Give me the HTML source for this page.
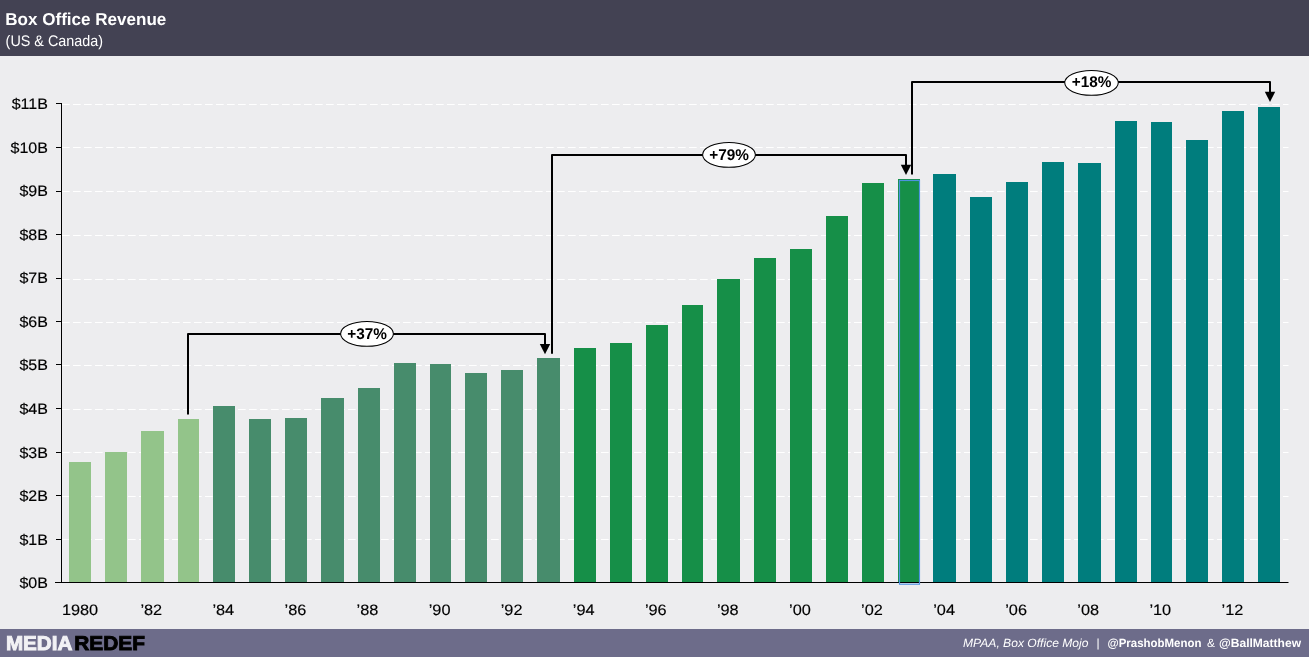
<!DOCTYPE html>
<html lang="en"><head><meta charset="utf-8"><title>Box Office Revenue</title>
<style>
html,body{margin:0;padding:0;background:#ededef;}
body{width:1309px;height:657px;overflow:hidden;font-family:"Liberation Sans",sans-serif;}
svg{display:block}
text{font-family:"Liberation Sans",sans-serif;text-rendering:geometricPrecision}
.yl{font-size:15.2px;fill:#000;stroke:#000;stroke-width:.15px;text-anchor:end}
.xl{font-size:15.1px;fill:#000;stroke:#000;stroke-width:.15px;text-anchor:middle}
.pl{font-size:15.5px;font-weight:bold;fill:#000;text-anchor:middle}
</style></head><body>
<svg width="1309" height="657" viewBox="0 0 1309 657">
<rect x="0" y="0" width="1309" height="657" fill="#ededef"/>
<rect x="0" y="0" width="1309" height="56" fill="#434253"/>
<text x="5.3" y="24.5" font-size="17.2" font-weight="bold" fill="#fff" textLength="161" lengthAdjust="spacingAndGlyphs">Box Office Revenue</text>
<text x="5.6" y="45.9" font-size="15.3" fill="#fff" textLength="97.5" lengthAdjust="spacingAndGlyphs">(US &amp; Canada)</text>

<g stroke="#fff" stroke-width="1" stroke-dasharray="7.7 3.3" fill="none">
<path d="M62 539.5H1288.5"/>
<path d="M62 496.5H1288.5"/>
<path d="M62 452.5H1288.5"/>
<path d="M62 409.5H1288.5"/>
<path d="M62 365.5H1288.5"/>
<path d="M62 322.5H1288.5"/>
<path d="M62 279.5H1288.5"/>
<path d="M62 235.5H1288.5"/>
<path d="M62 191.5H1288.5"/>
<path d="M62 147.5H1288.5"/>
<path d="M62 104.5H1288.5"/>
</g>
<rect x="69" y="462" width="22" height="120" fill="#93c48a"/>
<rect x="105" y="452" width="22" height="130" fill="#93c48a"/>
<rect x="141" y="431" width="23" height="151" fill="#93c48a"/>
<rect x="178" y="419" width="21" height="163" fill="#93c48a"/>
<rect x="213" y="406" width="22" height="176" fill="#478c6c"/>
<rect x="249" y="419" width="22" height="163" fill="#478c6c"/>
<rect x="285" y="418" width="22" height="164" fill="#478c6c"/>
<rect x="321" y="398" width="23" height="184" fill="#478c6c"/>
<rect x="358" y="388" width="22" height="194" fill="#478c6c"/>
<rect x="394" y="363" width="22" height="219" fill="#478c6c"/>
<rect x="430" y="364" width="21" height="218" fill="#478c6c"/>
<rect x="465" y="373" width="22" height="209" fill="#478c6c"/>
<rect x="501" y="370" width="22" height="212" fill="#478c6c"/>
<rect x="537" y="358" width="23" height="224" fill="#478c6c"/>
<rect x="574" y="348" width="22" height="234" fill="#168f48"/>
<rect x="610" y="343" width="22" height="239" fill="#168f48"/>
<rect x="646" y="325" width="22" height="257" fill="#168f48"/>
<rect x="682" y="305" width="21" height="277" fill="#168f48"/>
<rect x="717" y="279" width="23" height="303" fill="#168f48"/>
<rect x="754" y="258" width="22" height="324" fill="#168f48"/>
<rect x="790" y="249" width="22" height="333" fill="#168f48"/>
<rect x="826" y="216" width="22" height="366" fill="#168f48"/>
<rect x="862" y="183" width="22" height="399" fill="#168f48"/>
<rect x="898" y="179" width="22" height="403" fill="#168f48"/>
<rect x="933" y="174" width="23" height="408" fill="#007d7d"/>
<rect x="970" y="197" width="22" height="385" fill="#007d7d"/>
<rect x="1006" y="182" width="22" height="400" fill="#007d7d"/>
<rect x="1042" y="162" width="22" height="420" fill="#007d7d"/>
<rect x="1078" y="163" width="23" height="419" fill="#007d7d"/>
<rect x="1115" y="121" width="22" height="461" fill="#007d7d"/>
<rect x="1151" y="122" width="21" height="460" fill="#007d7d"/>
<rect x="1186" y="140" width="22" height="442" fill="#007d7d"/>
<rect x="1222" y="111" width="22" height="471" fill="#007d7d"/>
<rect x="1258" y="107" width="22" height="475" fill="#007d7d"/>
<g stroke="#000" stroke-width="1" fill="none">
<path d="M61.5 103V583"/>
<path d="M55 582.5H1288.5"/>
<path d="M56 539.5H61"/>
<path d="M56 495.5H61"/>
<path d="M56 452.5H61"/>
<path d="M56 408.5H61"/>
<path d="M56 364.5H61"/>
<path d="M56 321.5H61"/>
<path d="M56 278.5H61"/>
<path d="M56 234.5H61"/>
<path d="M56 191.5H61"/>
<path d="M56 147.5H61"/>
<path d="M56 103.5H61"/>
</g>
<rect x="899.5" y="180.5" width="20" height="403.7" fill="none" stroke="#4d92e0" stroke-width="1.15"/>
<text class="yl" transform="translate(47.9 588.1) scale(1.055 1)">$0B</text>
<text class="yl" transform="translate(47.9 544.6) scale(1.055 1)">$1B</text>
<text class="yl" transform="translate(47.9 501.0) scale(1.055 1)">$2B</text>
<text class="yl" transform="translate(47.9 457.5) scale(1.055 1)">$3B</text>
<text class="yl" transform="translate(47.9 413.9) scale(1.055 1)">$4B</text>
<text class="yl" transform="translate(47.9 370.4) scale(1.055 1)">$5B</text>
<text class="yl" transform="translate(47.9 326.8) scale(1.055 1)">$6B</text>
<text class="yl" transform="translate(47.9 283.3) scale(1.055 1)">$7B</text>
<text class="yl" transform="translate(47.9 239.7) scale(1.055 1)">$8B</text>
<text class="yl" transform="translate(47.9 196.2) scale(1.055 1)">$9B</text>
<text class="yl" transform="translate(47.9 152.6) scale(1.055 1)">$10B</text>
<text class="yl" transform="translate(47.9 109.1) scale(1.055 1)">$11B</text>
<text class="xl" transform="translate(80.0 615.3) scale(1.08 1)">1980</text>
<text class="xl" transform="translate(151.3 615.3) scale(1.08 1)">’82</text>
<text class="xl" transform="translate(223.3 615.3) scale(1.08 1)">’84</text>
<text class="xl" transform="translate(295.4 615.3) scale(1.08 1)">’86</text>
<text class="xl" transform="translate(367.5 615.3) scale(1.08 1)">’88</text>
<text class="xl" transform="translate(439.6 615.3) scale(1.08 1)">’90</text>
<text class="xl" transform="translate(511.6 615.3) scale(1.08 1)">’92</text>
<text class="xl" transform="translate(583.7 615.3) scale(1.08 1)">’94</text>
<text class="xl" transform="translate(655.8 615.3) scale(1.08 1)">’96</text>
<text class="xl" transform="translate(727.8 615.3) scale(1.08 1)">’98</text>
<text class="xl" transform="translate(799.9 615.3) scale(1.08 1)">’00</text>
<text class="xl" transform="translate(872.0 615.3) scale(1.08 1)">’02</text>
<text class="xl" transform="translate(944.1 615.3) scale(1.08 1)">’04</text>
<text class="xl" transform="translate(1016.1 615.3) scale(1.08 1)">’06</text>
<text class="xl" transform="translate(1088.2 615.3) scale(1.08 1)">’08</text>
<text class="xl" transform="translate(1160.3 615.3) scale(1.08 1)">’10</text>
<text class="xl" transform="translate(1232.4 615.3) scale(1.08 1)">’12</text>
<path d="M188 414.6V334H545V345.5" stroke="#000" stroke-width="2" fill="none" stroke-linejoin="round"/><path d="M539.8 344.0H550.2L545 354.2Z" fill="#000"/><ellipse cx="367" cy="333.85" rx="26.4" ry="12.45" fill="#fff" stroke="#000" stroke-width="1.05"/><text class="pl" transform="translate(367 339) scale(0.99 1)">+37%</text>
<path d="M552 353.8V155H906V166.3" stroke="#000" stroke-width="2" fill="none" stroke-linejoin="round"/><path d="M900.8 164.8H911.2L906 175.0Z" fill="#000"/><ellipse cx="729" cy="154.85" rx="26.4" ry="12.45" fill="#fff" stroke="#000" stroke-width="1.05"/><text class="pl" transform="translate(729 160) scale(0.99 1)">+79%</text>
<path d="M912 174.6V82H1270V93.3" stroke="#000" stroke-width="2" fill="none" stroke-linejoin="round"/><path d="M1264.8 91.8H1275.2L1270 102.0Z" fill="#000"/><ellipse cx="1091.5" cy="82.85" rx="26.75" ry="12.45" fill="#fff" stroke="#000" stroke-width="1.05"/><text class="pl" transform="translate(1091.5 87) scale(0.99 1)">+18%</text>
<rect x="0" y="629" width="1309" height="28" fill="#6d6c8a"/>
<text x="5.9" y="650.3" font-size="20" font-weight="bold" fill="#f2f2f5" stroke="#f2f2f5" stroke-width="0.9" textLength="66.5" lengthAdjust="spacingAndGlyphs">MEDIA</text>
<text x="74.3" y="650.3" font-size="20" font-weight="bold" fill="#000" stroke="#000" stroke-width="0.9" textLength="70.7" lengthAdjust="spacingAndGlyphs">REDEF</text>
<text x="963" y="647" font-size="11.9" font-style="italic" fill="#fff" textLength="125.5" lengthAdjust="spacingAndGlyphs">MPAA, Box Office Mojo</text>
<text x="1096.5" y="646.5" font-size="11.9" fill="#fff">|</text>
<text x="1107.5" y="647" font-size="11.9" font-weight="bold" fill="#fff" textLength="94" lengthAdjust="spacingAndGlyphs">@PrashobMenon</text>
<text x="1207" y="647" font-size="11.9" fill="#fff">&amp;</text>
<text x="1219" y="647" font-size="11.9" font-weight="bold" fill="#fff" textLength="82" lengthAdjust="spacingAndGlyphs">@BallMatthew</text>
</svg>
</body></html>
